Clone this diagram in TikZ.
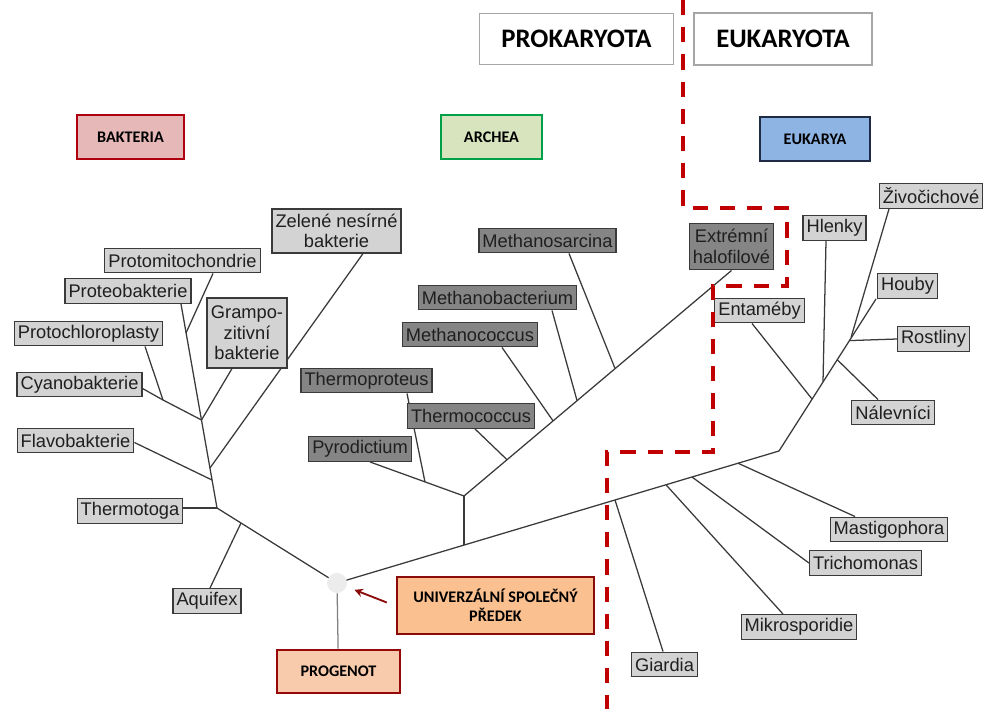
\documentclass[tikz,border=0pt]{standalone}
\usepackage{fontspec}
\setmainfont{Liberation Sans}
\newfontfamily\calibri{Carlito}
\usepackage{xcolor}
\usepackage{tikz}
\usetikzlibrary{calc,arrows.meta,backgrounds}

\definecolor{leafFill}{HTML}{D3D3D3}
\definecolor{archFill}{HTML}{858585}
\definecolor{edgeGray}{HTML}{3A3A3A}
\definecolor{dashRed}{HTML}{C00000}
\definecolor{bactFill}{HTML}{E6B9B8}
\definecolor{bactEdge}{HTML}{B00010}
\definecolor{archaFill}{HTML}{D7E4BD}
\definecolor{archaEdge}{HTML}{00A04A}
\definecolor{eukFill}{HTML}{8EB4E3}
\definecolor{eukEdge}{HTML}{1F2A44}
\definecolor{lucaFill}{HTML}{FAC090}
\definecolor{lucaEdge}{HTML}{8B0A0A}
\definecolor{progFill}{HTML}{F9CBAD}

\begin{document}
\begin{tikzpicture}[x=0.025cm,y=-0.025cm,
  leaf/.style={rectangle,draw=edgeGray,line width=0.8pt,fill=leafFill,text=black!88,font=\fontsize{13}{14.5}\selectfont,inner xsep=2.5pt,inner ysep=1pt,minimum height=0.62cm,align=center},
  darkLeaf/.style={leaf,fill=archFill},
  branch/.style={draw=edgeGray,line width=0.9pt},
  header/.style={rectangle,draw=gray!70,line width=1pt,fill=white,font=\calibri\bfseries\fontsize{19}{22}\selectfont},
  domainBox/.style={rectangle,line width=1.8pt,font=\calibri\bfseries\fontsize{11.5}{13.5}\selectfont,align=center,minimum height=1.1cm}]
\useasboundingbox (0,0) rectangle (984,709);

\node[header,minimum width=4.85cm,minimum height=1.28cm] (prokaryota) at (576.5,39) {PROKARYOTA};
\node[header,minimum width=4.45cm,minimum height=1.3cm] (eukaryota) at (783,39) {EUKARYOTA};

\node[domainBox,draw=bactEdge,fill=bactFill,minimum width=2.68cm] (bakteria) at (130.5,137) {BAKTERIA};
\node[domainBox,draw=archaEdge,fill=archaFill,minimum width=2.52cm] (archea) at (491.5,137) {ARCHEA};
\node[domainBox,draw=eukEdge,fill=eukFill,minimum width=2.75cm] (eukarya) at (815,139) {EUKARYA};
\node[domainBox,draw=lucaEdge,fill=lucaFill,minimum width=4.92cm,minimum height=1.42cm] (lucaBox) at (495.5,605.5) {UNIVERZÁLNÍ SPOLEČNÝ\\PŘEDEK};
\node[domainBox,draw=lucaEdge!90!red,fill=progFill,minimum width=3.08cm,minimum height=1.08cm] (progenot) at (338.5,671.5) {PROGENOT};

\node[circle,fill=gray!15,minimum size=0.5cm,inner sep=0pt] (rootDot) at (337,583) {};

\node[leaf] (protomito) at (182.5,260.5) {Protomitochondrie};
\node[leaf] (proteo) at (128,291) {Proteobakterie};
\node[leaf] (protochloro) at (88.5,333.5) {Protochloroplasty};
\node[leaf] (cyano) at (79.5,384.5) {Cyanobakterie};
\node[leaf] (flavo) at (75.5,440.5) {Flavobakterie};
\node[leaf] (thermotoga) at (130,511) {Thermotoga};
\node[leaf] (aquifex) at (207,601) {Aquifex};
\node[leaf,minimum width=2cm,minimum height=1.75cm] (gramp) at (247,333) {Grampo-\\zitivní\\bakterie};
\node[leaf,minimum width=3.17cm,minimum height=1.1cm] (zelene) at (336.5,231) {Zelené nesírné\\bakterie};

\node[darkLeaf] (msarcina) at (547.5,240.5) {Methanosarcina};
\node[darkLeaf] (mbact) at (497.5,297.5) {Methanobacterium};
\node[darkLeaf] (mcoccus) at (470,334.5) {Methanococcus};
\node[darkLeaf] (tproteus) at (366.5,380.5) {Thermoproteus};
\node[darkLeaf] (tcoccus) at (471,416) {Thermococcus};
\node[darkLeaf] (pyro) at (360,449) {Pyrodictium};
\node[darkLeaf,minimum width=2.12cm,minimum height=1.17cm] (halo) at (731.5,246.5) {Extrémní\\halofilové};

\node[leaf] (zivo) at (931,196) {Živočichové};
\node[leaf] (hlenky) at (834.5,228) {Hlenky};
\node[leaf] (houby) at (907.5,286) {Houby};
\node[leaf] (rostliny) at (933.5,339) {Rostliny};
\node[leaf] (entameby) at (759.5,310.5) {Entaméby};
\node[leaf] (nalev) at (893,412.5) {Nálevníci};
\node[leaf] (giardia) at (664.5,664.5) {Giardia};
\node[leaf] (mikro) at (799,627) {Mikrosporidie};
\node[leaf] (tricho) at (865.5,563) {Trichomonas};
\node[leaf] (masti) at (889,529.5) {Mastigophora};

\coordinate (root) at (337,583);
\coordinate (jThermotoga) at (217,508);
\coordinate (jAquifex) at (241,523);
\coordinate (jFlavo) at (212,480);
\coordinate (jZelene) at (210,468);
\coordinate (jGram) at (201.5,420);
\coordinate (jCyano) at (163,400);
\coordinate (jMito) at (186,333);
\coordinate (jArcStem) at (464,545);
\coordinate (jArc) at (464,496);
\coordinate (jTproteus) at (425,482);
\coordinate (jTcoccus) at (507,459.7);
\coordinate (jMcoccus) at (553,420.8);
\coordinate (jMbact) at (577,400.5);
\coordinate (jMsarc) at (615,368.4);
\coordinate (jEuk) at (779,451);
\coordinate (jGiardia) at (615,500);
\coordinate (jMikro) at (666,484.8);
\coordinate (jTricho) at (692,477);
\coordinate (jMasti) at (738,463.2);
\coordinate (jEnta) at (812,399);
\coordinate (jHlenky) at (823,381.6);
\coordinate (jNalev) at (837,359.5);
\coordinate (jRost) at (849,340.6);
\coordinate (jZivo) at (851,337.5);

\begin{pgfonlayer}{background}
\draw[branch] (root) -- (jThermotoga);
\draw[branch] (jThermotoga) -- ($(proteo.south)+(53,0)$);
\draw[branch] (jThermotoga) -- ($(thermotoga.east)+(0,-3)$);
\draw[branch] (jAquifex) -- ($(aquifex.north)+(3,0)$);
\draw[branch] (jFlavo) -- ($(flavo.east)+(0,2)$);
\draw[branch] (jZelene) -- ($(zelene.south)+(26.5,0)$);
\draw[branch] (jGram) -- ($(gramp.south)+(-15,0)$);
\draw[branch] (jGram) -- (jCyano);
\draw[branch] (jCyano) -- ($(cyano.east)+(0,4)$);
\draw[branch] (jCyano) -- ($(protochloro.south)+(56.5,0)$);
\draw[branch] (jMito) -- ($(protomito.south)+(30.5,0)$);

\draw[branch] (root) -- (jEuk);
\draw[branch] (jArcStem) -- (jArc);
\draw[branch] (jArc) -- ($(pyro.south)+(10,0)$);
\draw[branch] (jTproteus) -- ($(tproteus.south)+(40.5,0)$);
\draw[branch] (jArc) -- (halo.south);
\draw[branch] (jTcoccus) -- ($(tcoccus.south)+(4,0)$);
\draw[branch] (jMcoccus) -- ($(mcoccus.south)+(32,0)$);
\draw[branch] (jMbact) -- ($(mbact.south)+(54.5,0)$);
\draw[branch] (jMsarc) -- ($(msarcina.south)+(21.5,0)$);

\draw[branch] (jGiardia) -- ($(giardia.north)+(-1.5,0)$);
\draw[branch] (jMikro) -- ($(mikro.north)+(-16,0)$);
\draw[branch] (jTricho) -- (tricho.west);
\draw[branch] (jMasti) -- ($(masti.north)+(-34,0)$);
\draw[branch] (jEuk) -- ($(houby.south)+(-31.5,0)$);
\draw[branch] (jEnta) -- ($(entameby.south)+(-7.5,0)$);
\draw[branch] (jHlenky) -- ($(hlenky.south)+(-8.5,0)$);
\draw[branch] (jNalev) -- ($(nalev.north)+(-15,0)$);
\draw[branch] (jRost) -- (rostliny.west);
\draw[branch] (jZivo) -- ($(zivo.south)+(-42,0)$);
\end{pgfonlayer}

\draw[branch,draw=gray] (rootDot) -- (progenot);
\draw[-{Stealth[length=6pt,width=6pt]},line width=1.3pt,lucaEdge,shorten >=6pt] ($(lucaBox.west)+(-9,-3)$) -- (rootDot);

\draw[dashRed,line width=2.6pt,dash pattern=on 0.38cm off 0.3cm] (683,0) -- (683,208) -- (787,208) -- (787,286) -- (713,286) -- (713,452) -- (607,452) -- (607,709);

\end{tikzpicture}
\end{document}
